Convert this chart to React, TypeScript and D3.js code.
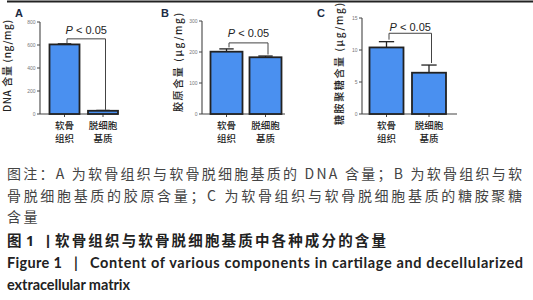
import React from "react";
import * as d3 from "d3";

// ---------- data ----------
const categoryLines: string[][] = [["软骨", "组织"], ["脱细胞", "基质"]];
const categories = ["软骨组织", "脱细胞基质"];

const dnaValues = [605, 28];
const dnaErrors = [5, 3];
const dnaTicks = [0, 200, 400, 600, 800];

const collagenValues = [201, 183];
const collagenErrors = [9, 4];
const collagenTicks = [0, 100, 200, 300];

const gagValues = [10.4, 6.45];
const gagErrors = [0.9, 1.2];
const gagTicks = [0, 5, 10, 15];

const panelLetters = ["A", "B", "C"];
const yLabels = ["DNA 含量 (ng/mg)", "胶原含量 (μg/mg)", "糖胺聚糖含量 (μg/mg)"];
const sigLabel = "< 0.05";

const captionLines = [
  "图注：A 为软骨组织与软骨脱细胞基质的 DNA 含量；B 为软骨组织与软",
  "骨脱细胞基质的胶原含量；C 为软骨组织与软骨脱细胞基质的糖胺聚糖",
  "含量",
];
const titleCn = "软骨组织与软骨脱细胞基质中各种成分的含量";
const titleEn1 = "Content of various components in cartilage and decellularized";
const titleEn2 = "extracellular matrix";

// ---------- layout (styles only) ----------
const panels = [
  { values: dnaValues, errors: dnaErrors, ticks: dnaTicks, axisX: 40, y0: 114, yTop: 22, c1: 64.5, c2: 103, bw: 30, xEnd: 118,
    letterX: 15, yLabX: 11, yLabCY: 66, yLabLen: 92, bracketGap: 5, legGap: 0.5, textGap: 5 },
  { values: collagenValues, errors: collagenErrors, ticks: collagenTicks, axisX: 202, y0: 114, yTop: 21, c1: 226.5, c2: 265.5, bw: 32, xEnd: 285,
    letterX: 161, yLabX: 182, yLabCY: 62.5, yLabLen: 99, bracketGap: 6, legGap: 1.5, textGap: 5.5 },
  { values: gagValues, errors: gagErrors, ticks: gagTicks, axisX: 362, y0: 114, yTop: 18, c1: 386.5, c2: 429, bw: 34, xEnd: 457,
    letterX: 317, yLabX: 343, yLabCY: 64, yLabLen: 122, bracketGap: 8.4, legGap: 2, textGap: 2 },
];

const BAR_FILL = "#4a90f0";
const DARK = "#222";
const CJK = "'Noto Sans CJK SC', 'Noto Sans', sans-serif";

function Panel({ p, idx }: { p: typeof panels[number]; idx: number }) {
  const step = p.c2 - p.c1;
  const pi = 1 - p.bw / step;
  const x = d3
    .scaleBand<string>()
    .domain(categories)
    .range([p.c1 - step / 2, p.c2 + step / 2])
    .paddingInner(pi)
    .paddingOuter(pi / 2);
  const maxTick = p.ticks[p.ticks.length - 1];
  const y = d3.scaleLinear().domain([0, maxTick]).range([p.y0, p.yTop]);
  const bw = x.bandwidth();
  const tops = p.values.map((v, i) => y(v + p.errors[i]));
  const bracketY = Math.min(...tops) - p.bracketGap;
  const lx = (x(categories[0]) as number) + bw / 2 + 2.5;
  const rx = (x(categories[1]) as number) + bw / 2 + 2.5;

  return (
    <g>
      <text x={p.letterX} y={17} fontFamily="'Liberation Sans', Arial, sans-serif" fontWeight="bold" fontSize={11} fill="#1a2a44">
        {panelLetters[idx]}
      </text>
      <text
        transform={`translate(${p.yLabX},${p.yLabCY}) rotate(-90)`}
        textAnchor="middle"
        fontFamily={CJK}
        fontSize={10}
        fontWeight={500}
        fill={DARK}
        textLength={p.yLabLen}
        lengthAdjust="spacing"
      >
        {yLabels[idx]}
      </text>
      {/* y axis */}
      <line x1={p.axisX} x2={p.axisX} y1={y(0)} y2={y(maxTick)} stroke="#444" strokeWidth={1.1} />
      {p.ticks.map((t) => (
        <g key={t}>
          <line x1={p.axisX - 3} x2={p.axisX} y1={y(t)} y2={y(t)} stroke="#444" strokeWidth={1} />
          <text x={p.axisX - 4.5} y={y(t) + 1.8} textAnchor="end" fontSize={5} fontFamily="'Liberation Sans', sans-serif" fill="#777">
            {t}
          </text>
        </g>
      ))}
      {/* x axis */}
      <line x1={p.axisX} x2={p.xEnd} y1={y(0)} y2={y(0)} stroke="#444" strokeWidth={1.1} />
      {categories.map((c, i) => {
        const cx = (x(c) as number) + bw / 2;
        return (
          <g key={c}>
            <line x1={cx} x2={cx} y1={y(0)} y2={y(0) + 3} stroke="#444" strokeWidth={1} />
            <text x={cx} y={128.5} textAnchor="middle" fontFamily={CJK} fontSize={9.5} fontWeight={500} fill={DARK}>
              {categoryLines[i].map((ln, k) => (
                <tspan key={k} x={cx} dy={k === 0 ? 0 : 13.9}>
                  {ln}
                </tspan>
              ))}
            </text>
          </g>
        );
      })}
      {/* bars */}
      {p.values.map((v, i) => {
        const bx = x(categories[i]) as number;
        const cx = bx + bw / 2;
        const capW = bw * 0.45;
        return (
          <g key={i}>
            <line x1={cx} x2={cx} y1={y(v)} y2={y(v + p.errors[i])} stroke={DARK} strokeWidth={1.3} />
            <line x1={cx - capW / 2} x2={cx + capW / 2} y1={y(v + p.errors[i])} y2={y(v + p.errors[i])} stroke={DARK} strokeWidth={1.3} />
            <rect x={bx} y={y(v)} width={bw} height={y(0) - y(v)} fill={BAR_FILL} stroke={DARK} strokeWidth={1.8} />
          </g>
        );
      })}
      {/* significance bracket */}
      <path
        d={`M${lx},${tops[0] - p.legGap}V${bracketY}H${rx}V${tops[1] - p.legGap}`}
        fill="none"
        stroke="#444"
        strokeWidth={1}
      />
      <text x={(lx + rx) / 2} y={bracketY - p.textGap} textAnchor="middle" fontFamily="'Liberation Sans', Arial, sans-serif" fontSize={11} fill={DARK}>
        <tspan fontStyle="italic">P</tspan> {sigLabel}
      </text>
    </g>
  );
}

export default function App() {
  return (
    <svg width={533} height={300} style={{ position: "absolute", left: 0, top: 0, background: "#fff" }}>
      <rect x={0} y={0} width={533} height={300} fill="#fff" />
      <line x1={7} x2={533} y1={1.5} y2={1.5} stroke="#222" strokeWidth={2} />
      {panels.map((p, i) => (
        <Panel key={i} p={p} idx={i} />
      ))}
      {/* caption */}
      <text x={7} y={179} fontFamily={CJK} fontSize={14} fill="#444" textLength={515} lengthAdjust="spacing">
        {captionLines[0]}
      </text>
      <text x={7} y={200.5} fontFamily={CJK} fontSize={14} fill="#444" textLength={515} lengthAdjust="spacing">
        {captionLines[1]}
      </text>
      <text x={7} y={222} fontFamily={CJK} fontSize={14} fill="#444" letterSpacing={2.5}>
        {captionLines[2]}
      </text>
      {/* Chinese title */}
      <text x={7} y={246} fontFamily={CJK} fontSize={14.5} fontWeight="bold" fill={DARK}>图</text>
      <text x={26} y={246} fontFamily="'Open Sans', sans-serif" fontSize={14} fontWeight="bold" fill={DARK}>1</text>
      <text x={41} y={246} fontFamily={CJK} fontSize={14} fontWeight="bold" fill={DARK}>丨</text>
      <text x={55} y={246} fontFamily={CJK} fontSize={14.5} fontWeight="bold" fill={DARK} textLength={331} lengthAdjust="spacing">
        {titleCn}
      </text>
      {/* English title */}
      <text x={7} y={268} fontFamily="Lato, 'Open Sans', sans-serif" fontSize={14.5} fontWeight="bold" fill={DARK} textLength={55} lengthAdjust="spacing">
        Figure 1
      </text>
      <text x={74} y={268} fontFamily="Lato, sans-serif" fontSize={14.5} fontWeight="bold" fill={DARK}>|</text>
      <text x={90} y={268} fontFamily="Lato, 'Open Sans', sans-serif" fontSize={14.5} fontWeight="bold" fill={DARK} textLength={433} lengthAdjust="spacing">
        {titleEn1}
      </text>
      <text x={7} y={290} fontFamily="Lato, 'Open Sans', sans-serif" fontSize={14.5} fontWeight="bold" fill={DARK} textLength={123} lengthAdjust="spacing">
        {titleEn2}
      </text>
    </svg>
  );
}
